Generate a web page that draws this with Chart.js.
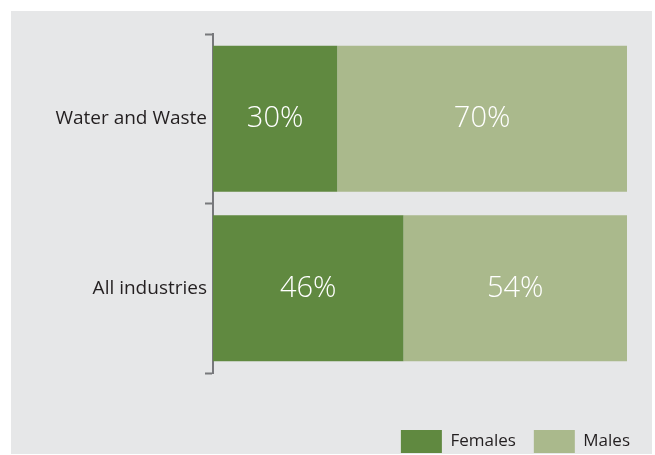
<!DOCTYPE html>
<html lang="en">
<head>
    <meta charset="UTF-8">
    <title>Females and Males by industry</title>
    <style>
        html, body {
            margin: 0;
            padding: 0;
            background-color: #ffffff;
            overflow: hidden;
        }

        /* panel de fondo gris */
        #panel {
            position: absolute;
            left: 11px;
            top: 11px;
            width: 641px;
            height: 443px;
            background-color: #e6e7e8;
        }

        #wrap {
            position: absolute;
            left: 0;
            top: 0;
            width: 655px;
            height: 463px;
        }
    </style>
</head>
<body>
    <div id="panel"></div>
    <div id="wrap">
        <canvas id="share-chart"></canvas>
    </div>

    <script src="https://cdn.jsdelivr.net/npm/chart.js"></script>
    <script>
        // Datos
        var categories = ['Water and Waste', 'All industries'];
        var females = [30, 46];
        var males = [70, 54];
        var seriesNames = ['Females', 'Males'];

        var textColor = '#231f20';
        var axisColor = '#77787b';

        Chart.defaults.font.family = "'Open Sans', 'Noto Sans', sans-serif";
        Chart.defaults.color = textColor;

        // Etiquetas de porcentaje dentro de cada barra
        var valueLabels = {
            id: 'valueLabels',
            afterDatasetsDraw: function(chart) {
                var ctx = chart.ctx;
                ctx.save();
                ctx.fillStyle = '#ffffff';
                ctx.font = "300 29px 'Open Sans', sans-serif";
                ctx.textAlign = 'center';
                ctx.textBaseline = 'middle';
                chart.data.datasets.forEach(function(ds, i) {
                    chart.getDatasetMeta(i).data.forEach(function(bar, j) {
                        var cx = (bar.x + bar.base) / 2;
                        ctx.fillText(ds.data[j] + '%', cx, bar.y);
                    });
                });
                ctx.restore();
            }
        };

        var ctxBar = document.getElementById('share-chart').getContext('2d');
        new Chart(ctxBar, {
            type: 'bar',
            data: {
                labels: categories,
                datasets: [{
                    label: seriesNames[0],
                    data: females,
                    backgroundColor: '#608940',
                    borderWidth: 0
                }, {
                    label: seriesNames[1],
                    data: males,
                    backgroundColor: '#aab98c',
                    borderWidth: 0
                }]
            },
            options: {
                indexAxis: 'y',
                responsive: true,
                maintainAspectRatio: false,
                animation: false,
                layout: {
                    padding: { top: 34, left: 0, right: 7, bottom: 0 }
                },
                datasets: {
                    bar: {
                        categoryPercentage: 1,
                        barPercentage: 0.86
                    }
                },
                scales: {
                    x: {
                        stacked: true,
                        min: 0,
                        max: 100,
                        ticks: { display: false },
                        grid: { display: false },
                        border: { display: false },
                        afterFit: function(s) { s.height = 39; }
                    },
                    y: {
                        stacked: true,
                        position: 'left',
                        grid: {
                            offset: true,
                            drawOnChartArea: false,
                            tickLength: 8,
                            tickWidth: 2,
                            tickColor: axisColor
                        },
                        border: {
                            display: true,
                            color: axisColor,
                            width: 2
                        },
                        ticks: {
                            padding: -2,
                            color: textColor,
                            font: { size: 19 }
                        },
                        afterFit: function(s) { s.width = 213; }
                    },
                    // eje vacío a la derecha, solo reserva espacio
                    yRight: {
                        type: 'linear',
                        axis: 'y',
                        position: 'right',
                        ticks: { display: false },
                        grid: { display: false },
                        border: { display: false },
                        afterFit: function(s) { s.width = 21; }
                    }
                },
                plugins: {
                    tooltip: { enabled: false },
                    legend: {
                        position: 'bottom',
                        align: 'end',
                        labels: {
                            boxWidth: 41,
                            boxHeight: 23,
                            padding: 18,
                            color: textColor,
                            font: { size: 17 }
                        }
                    }
                }
            },
            plugins: [valueLabels]
        });
    </script>
</body>
</html>
